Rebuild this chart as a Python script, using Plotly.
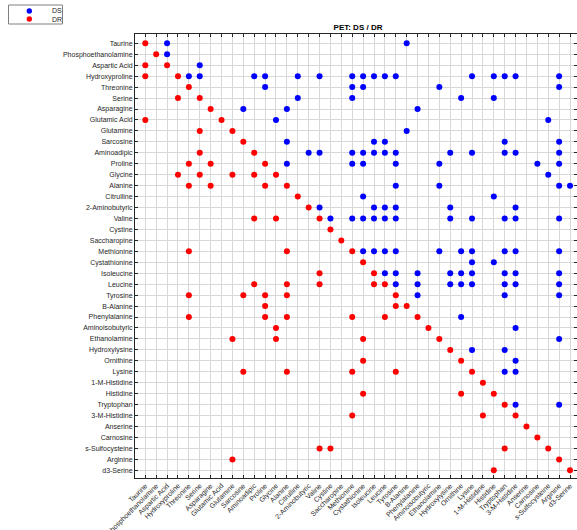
import plotly.graph_objects as go

# Amino acids, used for both axes (same order on x and y)
amino_acids = [
    "Taurine", "Phosphoethanolamine", "Aspartic Acid", "Hydroxyproline", "Threonine",
    "Serine", "Asparagine", "Glutamic Acid", "Glutamine", "Sarcosine",
    "Aminoadipic", "Proline", "Glycine", "Alanine", "Citrulline",
    "2-Aminobutyric", "Valine", "Cystine", "Saccharopine", "Methionine",
    "Cystathionine", "Isoleucine", "Leucine", "Tyrosine", "B-Alanine",
    "Phenylalanine", "Aminoisobutyric", "Ethanolamine", "Hydroxylysine", "Ornithine",
    "Lysine", "1-M-Histidine", "Histidine", "Tryptophan", "3-M-Histidine",
    "Anserine", "Carnosine", "s-Sulfocysteine", "Arginine", "d3-Serine",
]

# For each row (y amino acid): column indices of the DR hits
dr_cols = [
    [0], [1], [0, 2], [0, 3], [4],
    [3, 5], [6], [0, 7], [5, 8], [9],
    [5, 10], [4, 6, 11], [3, 5, 8, 10, 12], [4, 6, 11, 13], [14],
    [15], [10, 12, 16], [17], [18], [4, 13, 19],
    [20], [16, 21], [10, 13, 16, 21, 22], [4, 9, 11, 13, 23], [11, 23, 24],
    [4, 11, 13, 19, 22, 25], [12, 26], [8, 12, 20, 27], [28], [20, 29],
    [9, 13, 19, 23, 30], [31], [20, 29, 32], [33], [19, 31, 34],
    [35], [36], [16, 17, 33, 37], [8, 38], [32, 39],
]

# For each row (y amino acid): column indices of the DS hits
ds_cols = [
    [2, 24], [2], [5],
    [4, 5, 10, 11, 14, 16, 19, 20, 21, 22, 23, 30, 32, 33, 34, 38],
    [11, 19, 20, 27, 38],
    [14, 19, 29, 32], [9, 13, 25], [12, 37], [24], [13, 21, 22, 33, 38],
    [15, 16, 19, 20, 21, 22, 23, 28, 30, 33, 34, 38],
    [13, 19, 20, 23, 27, 36, 38],
    [37], [23, 27, 38, 39], [20, 32],
    [16, 21, 22, 23, 28, 34], [17, 19, 20, 21, 22, 23, 28, 30, 33, 34, 38],
    [], [], [20, 21, 22, 23, 27, 29, 30, 33, 34, 38],
    [30, 32], [22, 23, 25, 28, 29, 30, 33, 34, 38],
    [23, 25, 28, 29, 30, 33, 34, 38], [25, 33, 38], [],
    [29], [34], [38], [30, 33], [34],
    [33, 34], [], [], [34, 38], [],
    [], [], [], [], [],
]

series_names = ["DS", "DR"]
series_colors = ["#0000ff", "#ff0000"]


def to_xy(cols_per_row):
    xs, ys = [], []
    for r, cols in enumerate(cols_per_row):
        for c in cols:
            xs.append(amino_acids[c])
            ys.append(amino_acids[r])
    return xs, ys


fig = go.Figure()
for name, color, cols in zip(series_names, series_colors, [ds_cols, dr_cols]):
    xs, ys = to_xy(cols)
    fig.add_trace(go.Scatter(x=xs, y=ys, mode="markers", name=name, showlegend=False,
                             marker=dict(color=color, size=6, line=dict(width=0))))

W, H = 577, 530
L, R, T, B = 135, 0, 34, 52
PW, PH = W - L - R, H - T - B
FONT = "Liberation Sans, Arial, sans-serif"


def px(x):
    return (x - L) / PW


def py(y):
    return (H - B - y) / PH


axis_common = dict(
    type="category",
    categoryorder="array",
    categoryarray=amino_acids,
    tickmode="array",
    tickvals=amino_acids,
    ticktext=amino_acids,
    showgrid=True,
    gridcolor="#d8d8d8",
    gridwidth=1,
    showline=True,
    linecolor="#262626",
    linewidth=1,
    mirror="ticks",
    ticks="inside",
    ticklen=3,
    tickcolor="#262626",
    tickfont=dict(family=FONT, size=7, color="#262626"),
    zeroline=False,
    automargin=False,
)

# Compact legend box in the top-left corner
shapes = [dict(type="rect", xref="paper", yref="paper",
               x0=px(8.5), x1=px(62.5), y0=py(24), y1=py(5),
               line=dict(color="#808080", width=1), fillcolor="white", layer="above")]
annotations = []
for k, (name, color) in enumerate(zip(series_names, series_colors)):
    cy = 11 + 8 * k
    shapes.append(dict(type="circle", xref="paper", yref="paper",
                       x0=px(26.6), x1=px(32.0), y0=py(cy + 2.7), y1=py(cy - 2.7),
                       line=dict(width=0), fillcolor=color, layer="above"))
    annotations.append(dict(text=name, xref="paper", yref="paper",
                            x=px(49.5), y=py(cy), xanchor="left", yanchor="middle",
                            showarrow=False,
                            font=dict(family=FONT, size=7, color="#262626")))

fig.update_layout(
    width=W, height=H,
    margin=dict(l=L, r=R, t=T, b=B),
    paper_bgcolor="white",
    plot_bgcolor="white",
    title=dict(text="<b>PET: DS / DR</b>", xref="container", yref="container",
               x=358 / W, y=1 - 27 / H, xanchor="center", yanchor="middle",
               font=dict(family=FONT, size=8, color="#000000")),
    xaxis=dict(axis_common, range=[-0.946, 39.64], tickangle=-45),
    yaxis=dict(axis_common, range=[39.70, -0.85]),
    shapes=shapes,
    annotations=annotations,
    showlegend=False,
)

fig.write_html("out.html")
